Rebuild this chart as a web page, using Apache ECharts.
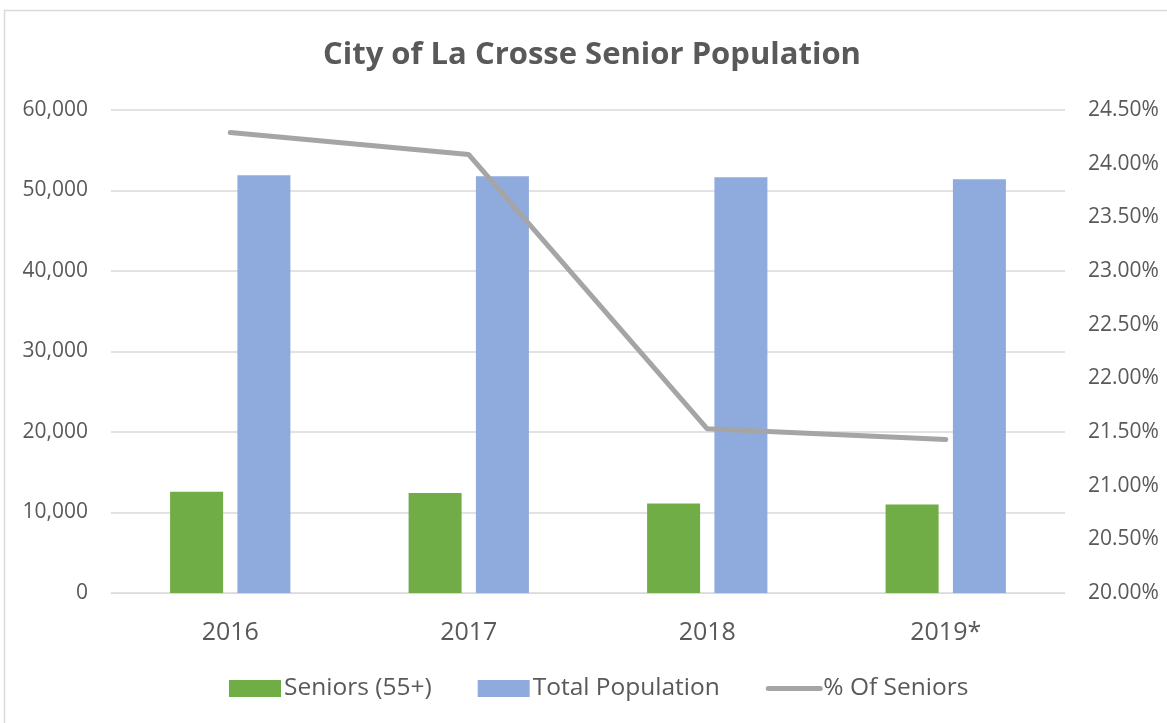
<!DOCTYPE html>
<html>
<head>
<meta charset="utf-8">
<script src="https://cdn.jsdelivr.net/npm/echarts@6/dist/echarts.min.js"></script>
<style>
  html, body { margin: 0; padding: 0; background: #fff; }
  #chart { width: 1167px; height: 723px; }
</style>
</head>
<body>
<div id="chart"></div>
<script>
const years = ['2016', '2017', '2018', '2019*']
const seniors = [12570, 12430, 11120, 10990]
const totalPopulation = [51900, 51760, 51650, 51400]
const pctSeniors = [24.29, 24.085, 21.53, 21.43]

const gray = '#595959'
const font = 'Open Sans'

const chart = echarts.init(document.getElementById('chart'))

chart.setOption({
  animation: false,
  backgroundColor: '#fff',
  textStyle: { fontFamily: font },
  title: {
    text: 'City of La Crosse Senior Population',
    left: 323,
    top: 40,
    padding: 0,
    textStyle: { color: gray, fontSize: 31, fontWeight: 'bold', fontFamily: font },
  },
  graphic: [{
    type: 'rect',
    shape: { x: 4.5, y: 10.5, width: 1200, height: 800 },
    style: { fill: 'none', stroke: '#d9d9d9', lineWidth: 1.5 },
    silent: true,
  }],
  grid: { left: 111, right: 102, top: 110, bottom: 130 },
  legend: {
    bottom: 17,
    left: 224,
    itemWidth: 52,
    itemHeight: 17,
    itemGap: 46,
    textStyle: { color: gray, fontSize: 24.5, fontFamily: font, padding: [0, 0, 0, -2] },
    data: [
      { name: 'Seniors (55+)', icon: 'rect' },
      { name: 'Total Population', icon: 'rect' },
      {
        name: '% Of Seniors',
        itemStyle: { opacity: 0 },
        lineStyle: { width: 5, cap: 'round', color: '#A5A5A5' },
      },
    ],
  },
  xAxis: {
    type: 'category',
    data: years,
    axisLine: { lineStyle: { color: '#d9d9d9' } },
    axisTick: { show: false },
    axisLabel: { color: gray, fontSize: 25, margin: 27 },
  },
  yAxis: [
    {
      type: 'value',
      min: 0,
      max: 60000,
      interval: 10000,
      axisLine: { show: false },
      axisTick: { show: false },
      splitLine: { lineStyle: { color: '#d9d9d9', width: 1.5 } },
      axisLabel: {
        color: gray,
        fontSize: 21,
        margin: 23,
        formatter: v => v.toLocaleString('en-US'),
      },
    },
    {
      type: 'value',
      min: 20,
      max: 24.5,
      interval: 0.5,
      axisLine: { show: false },
      axisTick: { show: false },
      splitLine: { show: false },
      axisLabel: {
        color: gray,
        fontSize: 21,
        margin: 23,
        formatter: v => v.toFixed(2) + '%',
      },
    },
  ],
  series: [
    {
      name: 'Seniors (55+)',
      type: 'bar',
      data: seniors,
      barWidth: 53,
      barGap: '27%',
      itemStyle: { color: '#70AD47' },
    },
    {
      name: 'Total Population',
      type: 'bar',
      data: totalPopulation,
      barWidth: 53,
      itemStyle: { color: '#8FAADC' },
    },
    {
      name: '% Of Seniors',
      type: 'line',
      yAxisIndex: 1,
      data: pctSeniors,
      symbol: 'none',
      lineStyle: { color: '#A5A5A5', width: 5, cap: 'round' },
      itemStyle: { color: '#A5A5A5' },
    },
  ],
})
</script>
</body>
</html>
